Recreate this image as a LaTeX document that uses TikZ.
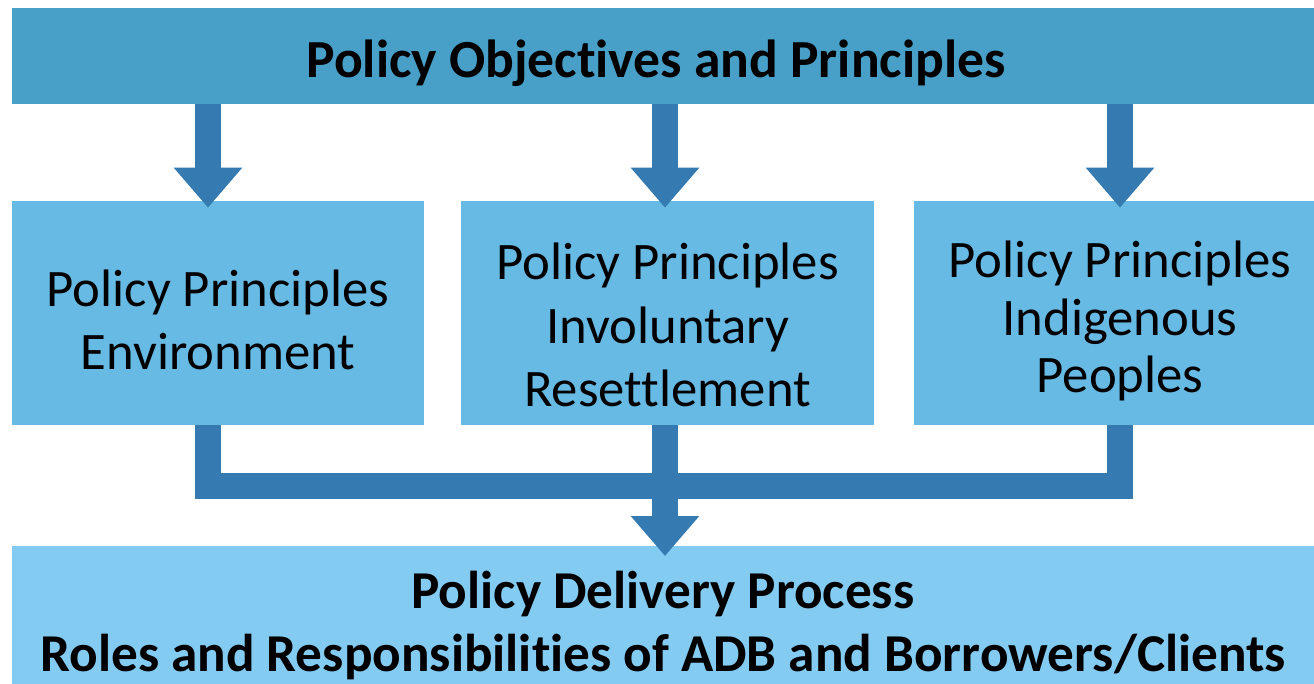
\documentclass[tikz,border=0pt]{standalone}
\usepackage{fontspec}
\setmainfont{Carlito}[Ligatures=NoCommon]
\usetikzlibrary{arrows.meta}
\definecolor{headblue}{HTML}{489FC8}
\definecolor{boxblue}{HTML}{67BAE4}
\definecolor{footblue}{HTML}{84CBF2}
\definecolor{arrowblue}{HTML}{357AB1}

\begin{document}
\begin{tikzpicture}[x=0.02cm,y=-0.02cm,
		head/.style={rectangle, fill=headblue, inner sep=0pt, minimum width=26.04cm, minimum height=1.92cm},
		principle/.style={rectangle, fill=boxblue, inner sep=0pt, minimum height=4.48cm},
		foot/.style={rectangle, fill=footblue, inner sep=0pt, minimum width=26.04cm, minimum height=3.08cm},
		boxtext/.style={align=center, inner sep=0pt, font=\fontsize{30}{36}\selectfont},
		link/.style={draw=arrowblue, line width=0.52cm},
		flow/.style={link, -{Triangle[width=1.32cm,length=0.8cm]}}
		]
		\useasboundingbox (0,0) rectangle (1314,683);
		\node[head, label={[boxtext, font=\fontsize{30.5}{36}\selectfont\bfseries, xshift=-0.14cm, yshift=-0.14cm]center:{Policy Objectives and Principles}}] (top) at (663,56) {};
		\node[principle, minimum width=8.24cm, label={[boxtext, yshift=-0.14cm]center:{Policy Principles\\Environment}}] (env) at (218,313) {};
		\node[principle, minimum width=8.26cm, label={[boxtext, yshift=-0.24cm]center:{Policy Principles\\Involuntary\\Resettlement}}] (resettle) at (667.5,313) {};
		\node[principle, minimum width=8cm, label={[boxtext, font=\fontsize{30}{32.6}\selectfont, xshift=0.12cm, yshift=-0.16cm]center:{Policy Principles\\Indigenous\\Peoples}}] (indig) at (1114,313) {};
		\node[foot, anchor=north, label={[boxtext, font=\fontsize{30.3}{36}\selectfont\bfseries, yshift=-0.05cm]center:{Policy Delivery Process\\Roles and Responsibilities of ADB and Borrowers/Clients}}] (delivery) at (663,546) {};

		\coordinate (envin) at ([shift={(-10,7)}]env.north);
		\coordinate (resin) at ([shift={(-2.5,7)}]resettle.north);
		\coordinate (indin) at ([shift={(6,7)}]indig.north);
		\coordinate (envout) at ([shift={(-10,0)}]env.south);
		\coordinate (indout) at ([shift={(6,0)}]indig.south);
		\coordinate (bus) at (665,485.5);
		\coordinate (delin) at ([shift={(2,10)}]delivery.north);

		\draw[flow] (top.south -| envin) -- (envin);
		\draw[flow] (top.south -| resin) -- (resin);
		\draw[flow] (top.south -| indin) -- (indin);
		\draw[link] (envout) -- (envout |- bus) -- (indout |- bus) -- (indout);
		\draw[link] (resettle.south -| bus) -- (bus);
		\draw[flow] (bus) -- (delin);
	\end{tikzpicture}
\end{document}
